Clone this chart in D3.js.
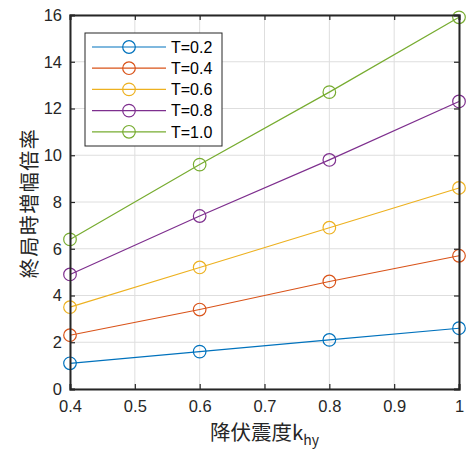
<!DOCTYPE html>
<html>
<head>
<meta charset="utf-8">
<script src="https://cdn.jsdelivr.net/npm/d3@7"></script>
<style>
  body { margin: 0; background: #fff; }
  text { font-family: "Noto Sans CJK JP", "Liberation Sans", sans-serif; }
</style>
</head>
<body>
<div id="chart"></div>
<script>
// data
var khy = [0.4, 0.6, 0.8, 1.0];
var seriesNames = ['T=0.2', 'T=0.4', 'T=0.6', 'T=0.8', 'T=1.0'];
var t02 = [1.1, 1.6, 2.1, 2.6];
var t04 = [2.3, 3.4, 4.6, 5.7];
var t06 = [3.5, 5.2, 6.9, 8.6];
var t08 = [4.9, 7.4, 9.8, 12.3];
var t10 = [6.4, 9.6, 12.7, 15.9];
var xTicks = [0.4, 0.5, 0.6, 0.7, 0.8, 0.9, 1];
var yTicks = [0, 2, 4, 6, 8, 10, 12, 14, 16];
var colors = ['#0072BD', '#D95319', '#EDB120', '#7E2F8E', '#77AC30'];

var series = [t02, t04, t06, t08, t10].map(function(vals, i) {
    return { name: seriesNames[i], color: colors[i], pts: vals.map(function(v, j) { return [khy[j], v] }) }
})

var W = 472, H = 450
var m = {l: 70, r: 13, t: 15, b: 61}
var w = W - m.l - m.r, h = H - m.t - m.b

var svg = d3.select('#chart').append('svg')
    .attr('width', W).attr('height', H)
var g = svg.append('g').attr('transform', 'translate(' + m.l + ',' + m.t + ')')

var x = d3.scaleLinear().domain([0.4, 1]).range([0, w])
var y = d3.scaleLinear().domain([0, 16]).range([h, 0])

// grid
g.append('g').selectAll('line').data(xTicks).enter().append('line')
    .attr('x1', x).attr('x2', x).attr('y1', 0).attr('y2', h)
    .attr('stroke', '#dedede').attr('stroke-width', 1)
g.append('g').selectAll('line').data(yTicks).enter().append('line')
    .attr('y1', y).attr('y2', y).attr('x1', 0).attr('x2', w)
    .attr('stroke', '#dedede').attr('stroke-width', 1)

// lines + markers
var line = d3.line().x(function(d) { return x(d[0]) }).y(function(d) { return y(d[1]) })
series.forEach(function(s) {
    g.append('path').datum(s.pts)
        .attr('d', line).attr('fill', 'none')
        .attr('stroke', s.color).attr('stroke-width', 1.2)
    g.append('g').selectAll('circle').data(s.pts).enter().append('circle')
        .attr('cx', function(d) { return x(d[0]) })
        .attr('cy', function(d) { return y(d[1]) })
        .attr('r', 6.3)
        .attr('fill', 'none').attr('stroke', s.color).attr('stroke-width', 1.2)
})

// axes (MATLAB box, inward ticks)
var fmt = function(d) { return d === 1 ? '1' : d3.format('.1f')(d) }
var axB = g.append('g').attr('transform', 'translate(0,' + h + ')')
    .call(d3.axisBottom(x).tickValues(xTicks).tickFormat(fmt).tickSize(-5).tickPadding(11))
var axT = g.append('g')
    .call(d3.axisTop(x).tickValues(xTicks).tickFormat('').tickSize(-5))
var axL = g.append('g')
    .call(d3.axisLeft(y).tickValues(yTicks).tickSize(-5).tickPadding(8))
var axR = g.append('g').attr('transform', 'translate(' + w + ',0)')
    .call(d3.axisRight(y).tickValues(yTicks).tickFormat('').tickSize(-5))
;[axB, axT, axL, axR].forEach(function(a) {
    a.select('.domain').attr('stroke', '#262626').attr('stroke-width', 2)
    a.selectAll('.tick line').attr('stroke', '#262626').attr('stroke-width', 1.2)
    a.selectAll('.tick text').attr('fill', '#262626')
        .style('font-family', '"Liberation Sans", Arial, sans-serif').style('font-size', '16.5px')
})

// axis titles
var xl = svg.append('text')
    .attr('x', m.l + w / 2).attr('y', 440)
    .attr('text-anchor', 'middle').attr('fill', '#262626').style('font-size', '20.5px')
xl.append('tspan').text('降伏震度k')
xl.append('tspan').attr('dy', 5).style('font-size', '14px').text('hy')

svg.append('text')
    .attr('transform', 'translate(37,' + 203 + ') rotate(-90)')
    .attr('text-anchor', 'middle').attr('fill', '#262626')
    .style('font-size', '20px').style('letter-spacing', '1.5px')
    .text('終局時増幅倍率')

// legend
var lg = svg.append('g').attr('transform', 'translate(85,33)')
lg.append('rect').attr('width', 137).attr('height', 113)
    .attr('fill', '#fff').attr('stroke', '#262626').attr('stroke-width', 1)
var item = lg.selectAll('g.item').data(series).enter().append('g')
    .attr('class', 'item')
    .attr('transform', function(d, i) { return 'translate(0,' + (14 + i * 21.2) + ')' })
item.append('line').attr('x1', 7).attr('x2', 81)
    .attr('stroke', function(d) { return d.color }).attr('stroke-width', 1.2)
item.append('circle').attr('cx', 44).attr('r', 6.3)
    .attr('fill', 'none').attr('stroke', function(d) { return d.color }).attr('stroke-width', 1.2)
item.append('text').attr('x', 86).attr('dy', '0.36em')
    .attr('fill', '#000').style('font-family', '"Liberation Sans", Arial, sans-serif').style('font-size', '16px')
    .text(function(d) { return d.name })
</script>
</body>
</html>
